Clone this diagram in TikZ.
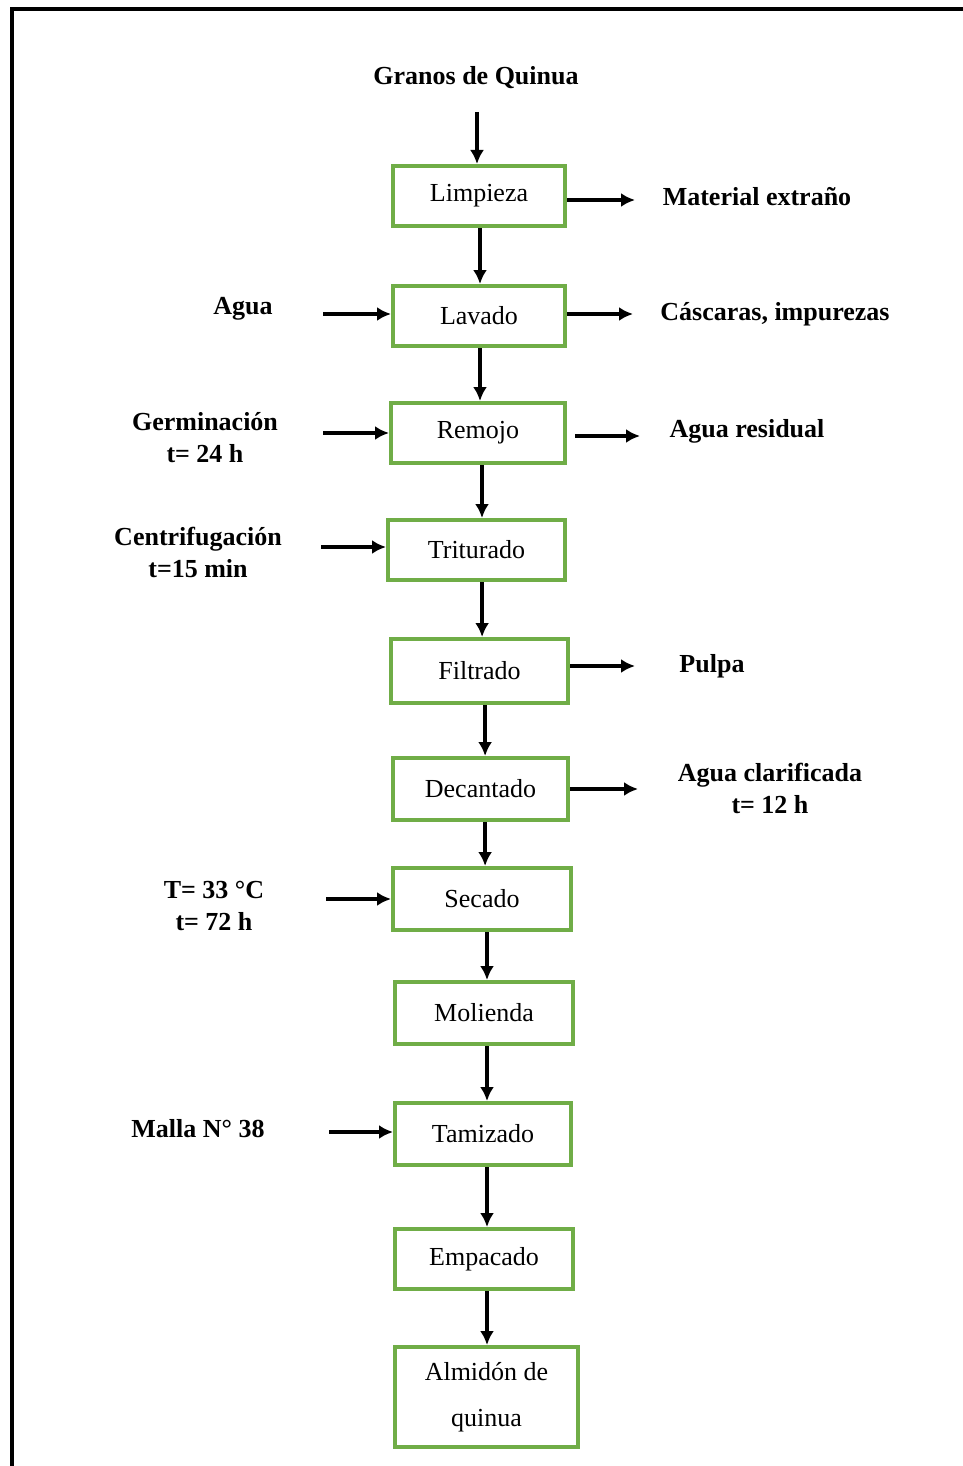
\documentclass[tikz,border=0pt]{standalone}
\usepackage{fontspec}
\setmainfont{Liberation Serif}
\usepackage{tikz}
\usetikzlibrary{arrows.meta}
\definecolor{verde}{RGB}{112, 173, 71}

\tikzset{
    etapa/.style   = {draw=verde, line width=2pt, rectangle, fill=white,
                      minimum width=86pt, minimum height=30pt, inner sep=2pt,
                      font=\fontsize{13pt}{16pt}\selectfont, align=center},
    entrada/.style = {font=\fontsize{13pt}{16pt}\selectfont\bfseries, align=center},
    flecha/.style  = {-{Latex[length=7pt,width=7pt]}, line width=1.8pt, black}
}

\begin{document}
\begin{tikzpicture}[x=0.5pt, y=-0.5pt]
            \useasboundingbox (0,0) rectangle (963,1466);
            % marco
            \draw[line width=2pt] (12,1480) -- (12,9) -- (980,9);

            % etapas del proceso
            \node[etapa]                                      (limpieza)  at (479, 196) {Limpieza};
            \node[etapa]                                      (lavado)    at (479, 316) {Lavado};
            \node[etapa, minimum width=87pt]                  (remojo)    at (478, 433) {Remojo};
            \node[etapa, minimum width=88.5pt]                (triturado) at (476.5, 550) {Triturado};
            \node[etapa, minimum width=88.5pt, minimum height=32pt] (filtrado)  at (479.5, 671) {Filtrado};
            \node[etapa, minimum width=87.5pt, minimum height=31pt] (decantado) at (480.5, 789) {Decantado};
            \node[etapa, minimum width=89pt, minimum height=31pt]   (secado)    at (482, 899) {Secado};
            \node[etapa, minimum width=89pt, minimum height=31pt]   (molienda)  at (484,1013) {Molienda};
            \node[etapa, minimum width=88pt, minimum height=31pt]   (tamizado)  at (483,1134) {Tamizado};
            \node[etapa, minimum width=89pt, minimum height=30pt]   (empacado)  at (484,1259) {Empacado};
            \node[etapa, minimum width=91.5pt, minimum height=50pt]
                                         (almidon)   at (486.5,1397) {Almid\'on de\\[7pt]quinua};

            % entradas y salidas
            \node[entrada] (granos)     at (476,  78) {Granos de Quinua};
            \node[entrada] (material)   at (757, 197) {Material extra\~no};
            \node[entrada] (cascaras)   at (775, 314) {C\'ascaras, impurezas};
            \node[entrada] (residual)   at (747, 431) {Agua residual};
            \node[entrada] (pulpa)      at (712, 666) {Pulpa};
            \node[entrada] (clarif)     at (770, 788) {Agua clarificada\\t= 12 h};
            \node[entrada] (agua)       at (243, 309) {Agua};
            \node[entrada] (germ)       at (205, 438) {Germinaci\'on\\t= 24 h};
            \node[entrada] (centrif)    at (198, 552) {Centrifugaci\'on\\t=15 min};
            \node[entrada] (temp)       at (214, 906) {T= 33 °C\\t= 72 h};
            \node[entrada] (malla)      at (198,1129) {Malla N° 38};

            % puntos libres de las flechas
            \coordinate (inGranos)  at (477, 112);
            \coordinate (inAgua)    at (323, 314);
            \coordinate (inGerm)    at (323, 433);
            \coordinate (inCentrif) at (321, 547);
            \coordinate (inTemp)    at (326, 899);
            \coordinate (inMalla)   at (329,1132);
            \coordinate (outMat)    at (635, 200);
            \coordinate (outCasc)   at (633, 314);
            \coordinate (outRes)    at (640, 436);
            \coordinate (outPulpa)  at (635, 666);
            \coordinate (outClarif) at (638, 789);

            % flujo principal
            \draw[flecha] (inGranos) -- (inGranos |- limpieza.north);
            \draw[flecha] ([xshift=0.5pt]limpieza.south) -- ([xshift=0.5pt]limpieza.south |- lavado.north);
            \draw[flecha] ([xshift=0.5pt]lavado.south)   -- ([xshift=0.5pt]lavado.south   |- remojo.north);
            \draw[flecha] ([xshift=2pt]remojo.south)     -- ([xshift=2pt]remojo.south     |- triturado.north);
            \draw[flecha] ([xshift=2.8pt]triturado.south) -- ([xshift=2.8pt]triturado.south |- filtrado.north);
            \draw[flecha] ([xshift=2.8pt]filtrado.south) -- ([xshift=2.8pt]filtrado.south  |- decantado.north);
            \draw[flecha] ([xshift=2.3pt]decantado.south) -- ([xshift=2.3pt]decantado.south |- secado.north);
            \draw[flecha] ([xshift=2.5pt]secado.south)   -- ([xshift=2.5pt]secado.south   |- molienda.north);
            \draw[flecha] ([xshift=1.5pt]molienda.south) -- ([xshift=1.5pt]molienda.south |- tamizado.north);
            \draw[flecha] ([xshift=2pt]tamizado.south)   -- ([xshift=2pt]tamizado.south   |- empacado.north);
            \draw[flecha] ([xshift=1.5pt]empacado.south) -- ([xshift=1.5pt]empacado.south |- almidon.north);

            % entradas
            \draw[flecha] (inAgua)    -- (inAgua    -| lavado.west);
            \draw[flecha] (inGerm)    -- (inGerm    -| remojo.west);
            \draw[flecha] (inCentrif) -- (inCentrif -| triturado.west);
            \draw[flecha] (inTemp)    -- (inTemp    -| secado.west);
            \draw[flecha] (inMalla)   -- (inMalla   -| tamizado.west);

            % salidas
            \draw[flecha] (limpieza.east |- outMat)          -- (outMat);
            \draw[flecha] (lavado.east |- outCasc)           -- (outCasc);
            \draw[flecha] ([xshift=4pt]remojo.east |- outRes) -- (outRes);
            \draw[flecha] (filtrado.east |- outPulpa)        -- (outPulpa);
            \draw[flecha] (decantado.east |- outClarif)      -- (outClarif);
        \end{tikzpicture}
\end{document}
